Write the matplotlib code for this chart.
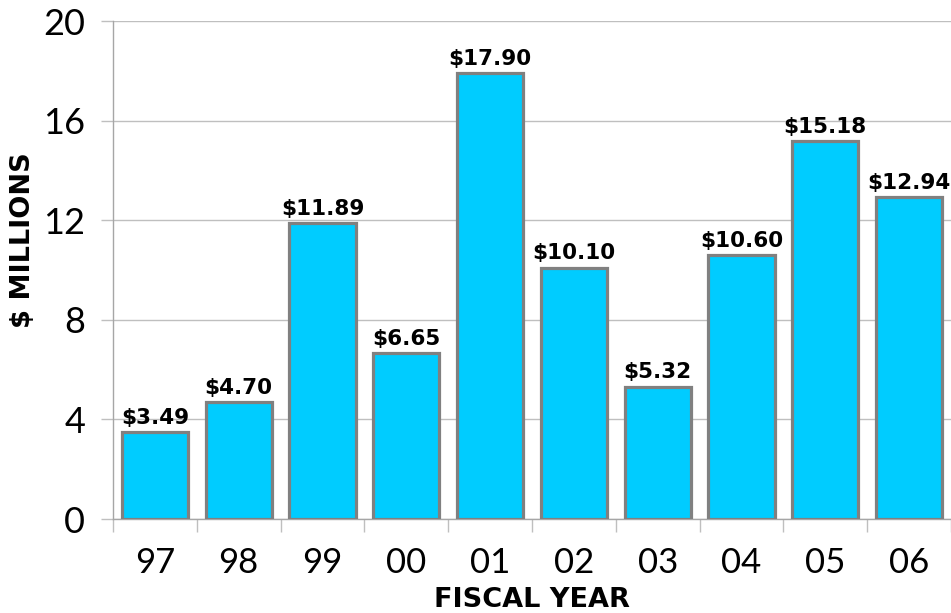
import matplotlib
matplotlib.use("Agg")
import matplotlib.pyplot as plt
import numpy as np

# fiscal years and funding in $ millions
years = ["97", "98", "99", "00", "01", "02", "03", "04", "05", "06"]
amounts = [3.49, 4.70, 11.89, 6.65, 17.90, 10.10, 5.32, 10.60, 15.18, 12.94]
y_ticks = [0, 4, 8, 12, 16, 20]

plt.rcParams['font.family'] = ['Lato', 'DejaVu Sans']

fig = plt.figure(figsize=(9.51, 6.13), dpi=100)
ax = fig.add_axes([0.1188, 0.1533, 0.8812, 0.8124])

x = np.arange(len(years))
ax.bar(x, amounts, width=0.79, color='#00CCFF', edgecolor='#808080',
       linewidth=2.3, zorder=3)

# value labels above bars
for xi, v in zip(x, amounts):
    ax.annotate(f"${v:.2f}", (xi, v), xytext=(0, 3), textcoords='offset points',
                ha='center', va='bottom', fontsize=15.5, fontweight='bold',
                family='DejaVu Sans', zorder=4)

ax.set_xlim(-0.5, len(years) - 0.5)
ax.set_ylim(0, 20)
ax.set_yticks(y_ticks)
ax.set_yticklabels([str(t) for t in y_ticks], fontsize=26, color='black')
ax.yaxis.grid(True, color='#BFBFBF', linewidth=1.0, zorder=0)

# category labels at centres, tick marks at the boundaries
ax.set_xticks(x)
ax.set_xticklabels(years, fontsize=25, color='black')
ax.set_xticks(np.arange(len(years) + 1) - 0.5, minor=True)
ax.tick_params(axis='x', which='major', length=0, pad=20)
ax.tick_params(axis='x', which='minor', length=9, width=1.0, color='#BFBFBF')
ax.tick_params(axis='y', length=9, width=1.0, color='#BFBFBF', pad=11)

for side in ['top', 'right']:
    ax.spines[side].set_visible(False)
for side in ['left', 'bottom']:
    ax.spines[side].set_color('#A6A6A6')
    ax.spines[side].set_linewidth(1.0)

ax.set_ylabel("$ MILLIONS", fontsize=19.5, fontweight='bold', family='DejaVu Sans')
ax.set_xlabel("FISCAL YEAR", fontsize=19.5, fontweight='bold', family='DejaVu Sans')
ax.yaxis.set_label_coords(-0.107, 0.56)
ax.xaxis.set_label_coords(0.5, -0.163)
ax.yaxis.label.set_va('center')
ax.xaxis.label.set_va('center')

fig.savefig("out.png", dpi=100)
